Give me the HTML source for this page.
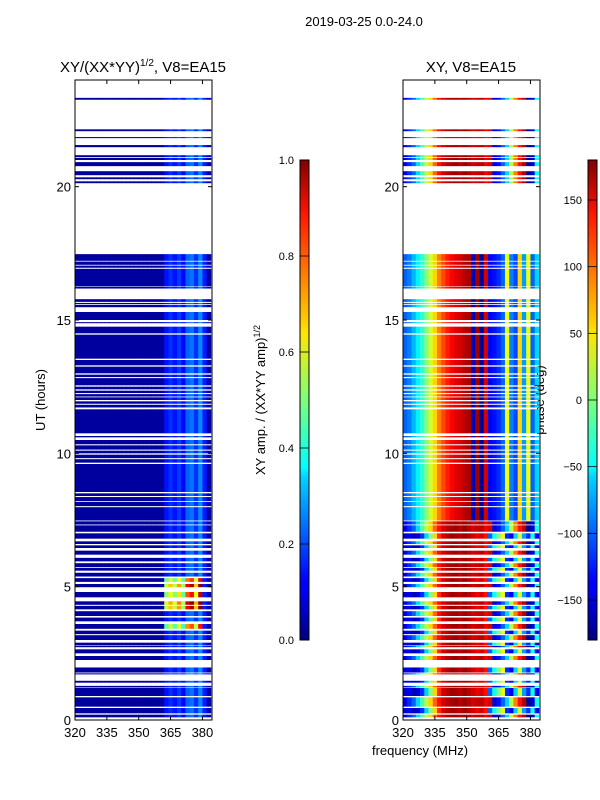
<!DOCTYPE html>
<html><head><meta charset="utf-8"><style>
body{margin:0;background:#fff;}
svg{display:block;font-family:"Liberation Sans","DejaVu Sans",sans-serif;}
</style></head><body>
<svg id="fig" width="600" height="800" viewBox="0 0 600 800" xmlns="http://www.w3.org/2000/svg">
<defs>
<linearGradient id="jet" x1="0" y1="1" x2="0" y2="0">
<stop offset="0" stop-color="#000080"/><stop offset="0.11" stop-color="#0000ff"/><stop offset="0.125" stop-color="#0000ff"/>
<stop offset="0.34" stop-color="#00d4ff"/><stop offset="0.36" stop-color="#0ff"/><stop offset="0.5" stop-color="#7dff7a"/>
<stop offset="0.64" stop-color="#ffe600"/><stop offset="0.66" stop-color="#ffd000"/><stop offset="0.89" stop-color="#ff1400"/>
<stop offset="1" stop-color="#800000"/></linearGradient>
</defs>
<text x="364" y="26" font-size="13" text-anchor="middle">2019-03-25 0.0-24.0</text>
<text x="143" y="72" font-size="15" text-anchor="middle">XY/(XX*YY)<tspan font-size="10" dy="-6">1/2</tspan><tspan dy="6">, V8=EA15</tspan></text>
<text x="471" y="72" font-size="15" text-anchor="middle">XY, V8=EA15</text>
<text transform="translate(45,400) rotate(-90)" font-size="13" text-anchor="middle">UT (hours)</text>
<text x="420" y="755" font-size="13" text-anchor="middle">frequency (MHz)</text>
<text transform="translate(265,400) rotate(-90)" font-size="13" text-anchor="middle">XY amp. / (XX*YY amp)<tspan font-size="9" dy="-5">1/2</tspan></text>
<text transform="translate(544,400) rotate(-90)" font-size="13" text-anchor="middle">phase (deg)</text>
<g id="g"></g>
</svg>
<script>
const intervals=[[0.1,0.2],[0.25,0.45],[0.5,0.85],[0.9,1.2],[1.22,1.28],[1.4,1.47],[1.71,1.75],[1.78,1.97],[2.25,2.4],[2.5,2.65],[2.73,2.78],[2.8,2.9],[3.0,3.18],[3.22,3.35],[3.42,3.6],[3.7,3.84],[3.9,4.08],[4.15,4.28],[4.32,4.45],[4.6,4.8],[4.98,5.1],[5.18,5.32],[5.38,5.52],[5.6,5.7],[5.73,5.88],[5.95,6.08],[6.2,6.35],[6.45,6.55],[6.6,6.7],[6.8,7.0],[7.06,7.3],[7.33,7.45],[7.48,7.98],[8.02,8.18],[8.21,8.36],[8.4,8.5],[8.55,9.6],[9.65,9.78],[9.82,9.95],[10.0,10.1],[10.14,10.3],[10.34,10.5],[10.6,10.65],[10.75,11.65],[11.72,11.82],[11.86,11.95],[12.0,12.1],[12.13,12.22],[12.26,12.35],[12.4,12.5],[12.55,12.82],[12.86,12.95],[13.0,13.25],[13.3,13.5],[13.55,14.45],[14.5,14.75],[14.88,14.92],[15.0,15.3],[15.48,15.57],[15.6,15.64],[15.68,15.78],[16.18,16.25],[16.27,16.92],[16.96,17.04],[17.07,17.19],[17.22,17.47],[20.13,20.2],[20.28,20.35],[20.43,20.58],[20.77,20.92],[21.0,21.08],[21.11,21.18],[21.48,21.56],[21.82,21.86],[22.08,22.15],[23.26,23.33]];
const channels=[320,322,324,326,328,330,332,334,336,338,340,342,344,346,348,350,352,354,356,358,360,362,364,366,368,370,372,374,376,378,380,382];
const ampByChan=[0.03,0.03,0.03,0.03,0.03,0.03,0.03,0.03,0.03,0.03,0.03,0.03,0.03,0.03,0.03,0.03,0.03,0.03,0.03,0.03,0.03,0.14,0.17,0.14,0.18,0.13,0.22,0.24,0.17,0.26,0.15,0.04];
const brightTimes=[[3.42,3.6],[4.15,4.28],[4.32,4.45],[4.6,4.8],[4.98,5.1],[5.18,5.32]];
const brightLevels=[0.6,0.72,0.75,0.65,0.72,0.62];
const phaseDay=[-100,-90,-70,-50,-30,0,30,60,90,110,125,135,145,150,160,165,-160,170,-170,150,-140,-130,-120,-100,40,-90,-110,60,-80,40,-100,-60];
const phaseNight=[-140,-120,-100,-60,-20,20,60,100,130,150,160,165,170,160,170,160,150,155,160,140,150,-150,-130,-100,-60,20,90,130,160,-170,-150,-40];
const phaseAlt=[-150,-140,-160,-150,-120,-60,0,60,120,150,160,170,165,160,170,160,150,140,150,130,-100,-40,0,40,-120,-140,-60,30,-80,-120,-40,-140];
const yTicks=[0,5,10,15,20];
const xTicks=[320,335,350,365,380];
const ampTicks=[0.0,0.2,0.4,0.6,0.8,1.0];
const phaseTicks=[-150,-100,-50,0,50,100,150];

const NS='http://www.w3.org/2000/svg';
const g=document.getElementById('g');
const F0=320,F1=384.5,H0=0,H1=24,TOP=80,BOT=720;
const panels=[{x0:75,x1:212},{x0:403,x1:540}];
function xs(p,f){return p.x0+(f-F0)/(F1-F0)*(p.x1-p.x0);}
function ys(h){return BOT-(h-H0)/(H1-H0)*(BOT-TOP);}
function jet(v){v=Math.max(0,Math.min(1,v));
 const r=Math.max(0,Math.min(1,1.5-Math.abs(4*v-3))),gg=Math.max(0,Math.min(1,1.5-Math.abs(4*v-2))),b=Math.max(0,Math.min(1,1.5-Math.abs(4*v-1)));
 return 'rgb('+Math.round(r*255)+','+Math.round(gg*255)+','+Math.round(b*255)+')';}
function mk(tag,attrs,parent){const e=document.createElementNS(NS,tag);for(const k in attrs)e.setAttribute(k,attrs[k]);(parent||g).appendChild(e);return e;}
const cw=2;
const ampG=mk('g',{});


intervals.forEach((iv,i)=>{
 let boost=0;brightTimes.forEach((bt,j)=>{if(iv[0]<bt[1]&&iv[1]>bt[0])boost=brightLevels[j];});
 channels.forEach((f,c)=>{
  let a=ampByChan[c];
  if(boost&&c>=21&&c<=29)a=boost*(ampByChan[c]/0.18);
  const x=xs(panels[0],f),w=xs(panels[0],Math.min(f+cw,F1))-x;
  const r=mk('rect',{x:x,y:ys(iv[1]),width:w+0.3,height:Math.max(1,ys(iv[0])-ys(iv[1])),fill:jet(a)},ampG);
  
  
 });
});
const phG=mk('g',{});


intervals.forEach((iv,i)=>{
 let prof=(iv[0]>=7.4&&iv[1]<=17.6)?phaseDay:phaseNight;
 if(iv[1]<7.4&&i%2===1)prof=phaseAlt;
 channels.forEach((f,c)=>{
  const x=xs(panels[1],f),w=xs(panels[1],Math.min(f+cw,F1))-x;
  const r=mk('rect',{x:x,y:ys(iv[1]),width:w+0.3,height:Math.max(1,ys(iv[0])-ys(iv[1])),fill:jet((prof[c]+180)/360)},phG);
  
  
 });
});
panels.forEach((p,pi)=>{
 const fr=mk('rect',{x:p.x0,y:TOP,width:p.x1-p.x0,height:BOT-TOP,fill:'none',stroke:'#000','stroke-width':1});
 
 
 yTicks.forEach(t=>{const y=ys(t);
  mk('line',{x1:p.x0,x2:p.x0+4,y1:y,y2:y,stroke:'#000'});mk('line',{x1:p.x1,x2:p.x1-4,y1:y,y2:y,stroke:'#000'});
  const tx=mk('text',{x:p.x0-4,y:y+5,'font-size':13,'text-anchor':'end'});tx.textContent=t;
  
  
 });
 xTicks.forEach(t=>{const x=xs(p,t);
  mk('line',{x1:x,x2:x,y1:BOT,y2:BOT-4,stroke:'#000'});mk('line',{x1:x,x2:x,y1:TOP,y2:TOP+4,stroke:'#000'});
  const tx=mk('text',{x:x,y:BOT+17,'font-size':13,'text-anchor':'middle'});tx.textContent=t;
  
  
 });
});
[{x:300,ticks:ampTicks,min:0,max:1,name:'amp-colorbar',fmt:v=>v.toFixed(1)},{x:588,ticks:phaseTicks,min:-180,max:180,name:'phase-colorbar',fmt:v=>String(v).replace('-','\u2212')}].forEach(cb=>{
 const r=mk('rect',{x:cb.x,y:160,width:9,height:480,fill:'url(#jet)',stroke:'#000','stroke-width':1});
 
 
 cb.ticks.forEach(t=>{const y=640-(t-cb.min)/(cb.max-cb.min)*480;
  mk('line',{x1:cb.x,x2:cb.x+9,y1:y,y2:y,stroke:'#000','stroke-width':0.8});
  const tx=mk('text',{x:cb.x-6,y:y+4,'font-size':11,'text-anchor':'end'});tx.textContent=cb.fmt(t);
  
  
 });
});
</script>
</body></html>
